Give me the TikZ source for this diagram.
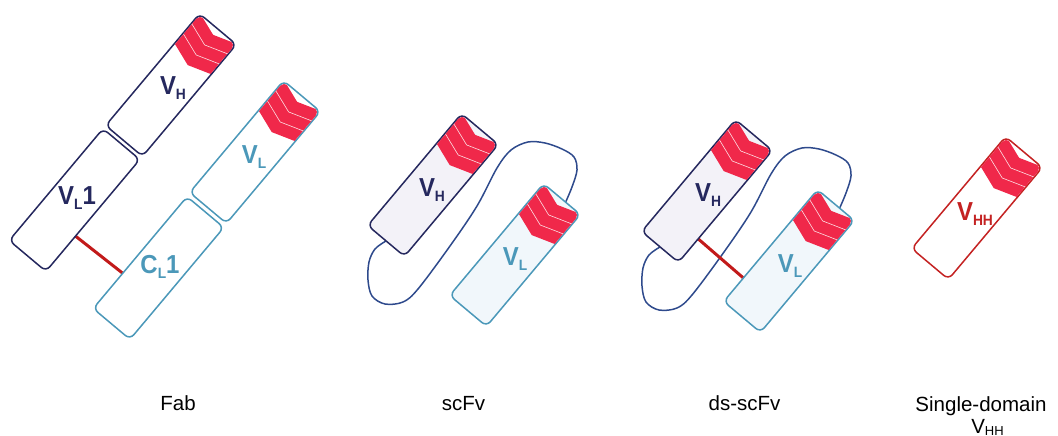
\documentclass[tikz,border=0pt]{standalone}
\usepackage{fontspec}
\setmainfont{Liberation Sans}
\usetikzlibrary{calc,backgrounds}

\definecolor{navy}{HTML}{25285E}
\definecolor{tealc}{HTML}{4B98B9}
\definecolor{chevred}{HTML}{F0284A}
\definecolor{bondred}{HTML}{C21A1A}
\definecolor{linkblue}{HTML}{2E4A8C}
\definecolor{lavfill}{HTML}{F3F2F8}
\definecolor{bluefill}{HTML}{F1F7FB}
\definecolor{vhhred}{HTML}{C42222}

\tikzset{
  dombox/.style={draw, rotate=50, rounded corners=6pt, minimum width=146pt,
    minimum height=48pt, inner sep=0pt, outer sep=0pt, line width=1.5pt},
  domlabel/.style={font=\fontsize{26}{26}\selectfont\bfseries, xscale=0.92, inner sep=0pt},
  caption/.style={font=\fontsize{20.5}{24}\selectfont, anchor=base, inner sep=0pt},
  bond/.style={draw=bondred, line width=3pt},
  linker/.style={draw=linkblue, line width=1.5pt, line join=round},
}

% domain label: main letter, lowered subscript, trailing text
\newcommand\dtxt[3]{#1\raisebox{-5pt}{\fontsize{15}{15}\selectfont #2}#3}

% red chevron band at the upper end of a variable domain
\newcommand\chevband[1]{%
  \begin{scope}[shift={(#1.center)}, rotate=50]
    \clip[rounded corners=5.3pt] (-72.2,-23.2) rectangle (72.2,23.2);
    \fill[chevred] (74,-25) -- (65.5,0) -- (74,25) -- (34.5,25) -- (26,0) -- (34.5,-25) -- cycle;
    \draw[white, line width=0.6pt, opacity=0.85] (47.7,-25) -- (39.2,0) -- (47.7,25);
    \draw[white, line width=0.6pt, opacity=0.85] (60.8,-25) -- (52.3,0) -- (60.8,25);
  \end{scope}}

\begin{document}
\begin{tikzpicture}[x=1pt,y=-1pt]
\useasboundingbox (0,0) rectangle (1058,436);

% ---------- Fab ----------
\node[dombox, draw=navy, fill=white] (fabH) at (171,85) {};
\node[dombox, draw=navy, fill=white] (fabVL) at (74.5,200) {};
\node[dombox, draw=tealc, fill=white] (fabL) at (255,152) {};
\node[dombox, draw=tealc, fill=white] (fabCL) at (158.5,268) {};
\chevband{fabH}
\chevband{fabL}
\node[domlabel, text=navy] (fabHt) at (173,88) {\dtxt{V}{H}{}};
\node[domlabel, text=navy] (fabVLt) at (77,198) {\dtxt{V}{L}{1}};
\node[domlabel, text=tealc] (fabLt) at (254,157) {\dtxt{V}{L}{}};
\node[domlabel, text=tealc] (fabCLt) at (160,267) {\dtxt{C}{L}{1}};
\begin{scope}[on background layer]
  \draw[bond] ($(fabVL.south west)!0.315!(fabVL.south east)$)
           -- ($(fabCL.north west)!0.315!(fabCL.north east)$);
\end{scope}

% ---------- scFv ----------
\node[dombox, draw=navy, fill=lavfill] (scH) at (433,185) {};
\node[dombox, draw=tealc, fill=bluefill] (scL) at (515,255) {};
\chevband{scH}
\chevband{scL}
\node[domlabel, text=navy] (scHt) at (432,190) {\dtxt{V}{H}{}};
\node[domlabel, text=tealc] (scLt) at (515,259) {\dtxt{V}{L}{}};
\coordinate (scS) at (scH.west);
\coordinate (scE) at ($(scL.north east)!0.6!(scL.south east)$);
\begin{scope}[on background layer]
  \draw[linker] plot[smooth, tension=0.55] coordinates {(scS) (375,249) (369,262) (368,280)
    (372,296) (385,304) (403,302) (418,289) (450,246) (477,206) (497,168) (511,150)
    (528,142) (545,143) (562,149) (574,157) (577,170) (572,187) (scE)};
\end{scope}

% ---------- ds-scFv ----------
\node[dombox, draw=navy, fill=lavfill] (dsH) at (707,191) {};
\node[dombox, draw=tealc, fill=bluefill] (dsL) at (789,261) {};
\chevband{dsH}
\chevband{dsL}
\node[domlabel, text=navy] (dsHt) at (708,195) {\dtxt{V}{H}{}};
\node[domlabel, text=tealc] (dsLt) at (790,266) {\dtxt{V}{L}{}};
\coordinate (dsS) at (dsH.west);
\coordinate (dsE) at ($(dsL.north east)!0.6!(dsL.south east)$);
\begin{scope}[on background layer]
  \begin{scope}[shift={(274,6)}]
    \draw[linker] plot[smooth, tension=0.55] coordinates {(dsS) (375,249) (369,262) (368,280)
      (372,296) (385,304) (403,302) (418,289) (450,246) (477,206) (497,168) (511,150)
      (528,142) (545,143) (562,149) (574,157) (577,170) (572,187) (dsE)};
  \end{scope}
  \draw[bond] ($(dsH.south west)!0.21!(dsH.south east)$)
           -- ($(dsL.north west)!0.21!(dsL.north east)$);
\end{scope}

% ---------- single-domain VHH ----------
\node[dombox, draw=vhhred, fill=white] (vhh) at (977,208) {};
\chevband{vhh}
\node[domlabel, text=vhhred] (vhht) at (975,214) {\dtxt{V}{HH}{}};

% ---------- captions ----------
\node[caption] (capFab) at (178,410) {Fab};
\node[caption] (capSc) at (463.5,410) {scFv};
\node[caption] (capDs) at (744.5,410) {ds-scFv};
\node[caption] (capSd) at (981,411) {Single-domain};
\node[caption] (capVhh) at (987.5,433) {V\raisebox{-2pt}{\fontsize{13}{13}\selectfont HH}};
\end{tikzpicture}
\end{document}
